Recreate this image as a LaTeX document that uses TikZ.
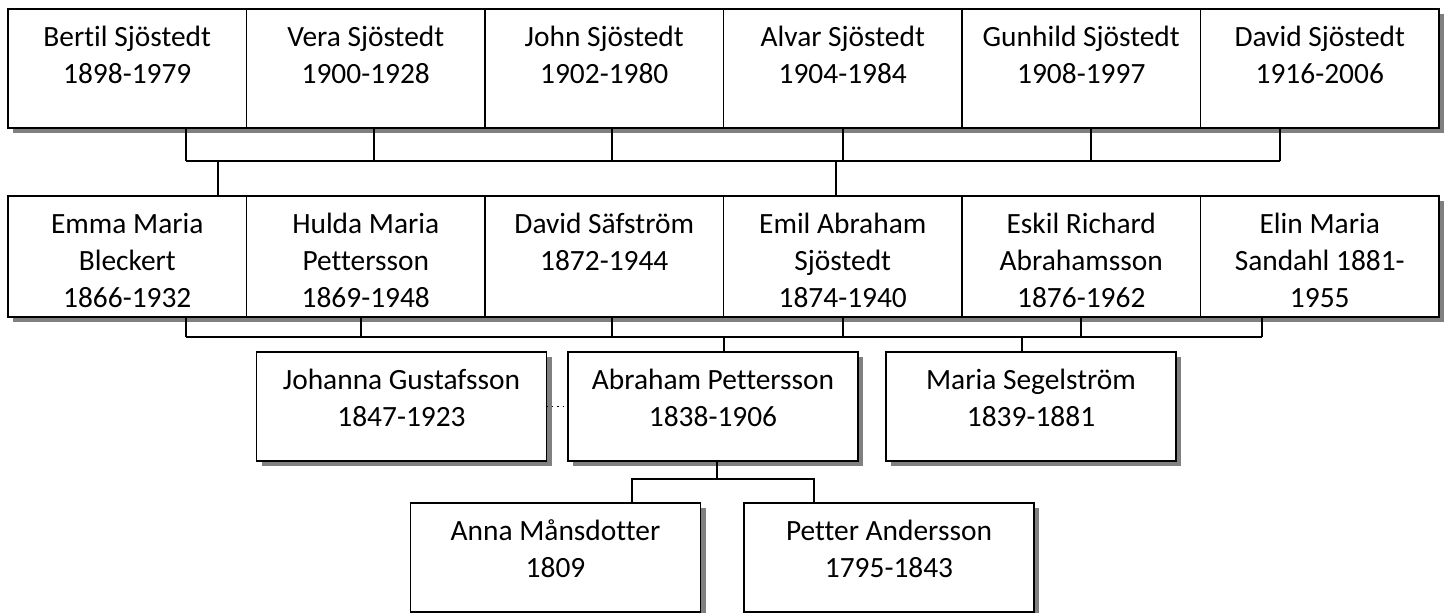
\documentclass[tikz,border=0pt]{standalone}
\usepackage{fontspec}
\setmainfont{Carlito}[Ligatures=NoCommon]
\usetikzlibrary{shadows}
% rutor: bredd, hojd, text (texten ligger upptill)
\newcommand{\persbox}[3]{\parbox[c][#2][t]{#1}{\centering\rule{0pt}{19pt}#3}}
\newcommand{\barnbox}[1]{\persbox{119.25pt}{59.5pt}{#1}}
\newcommand{\foraldbox}[1]{\persbox{119.25pt}{60.5pt}{#1}}
\newcommand{\farbox}[1]{\persbox{145pt}{54.5pt}{#1}}
\tikzset{
  pers/.style={draw, line width=0.75pt, fill=white, inner sep=0pt, outer sep=0pt,
    drop shadow={shadow xshift=2.5pt, shadow yshift=-2.5pt, fill=black!50, opacity=1}},
  link/.style={line width=0.7pt}
}

\begin{document}
\begin{tikzpicture}[x=0.5pt,y=-0.5pt,
    every node/.style={font=\fontsize{14.7pt}{18.3pt}\selectfont}]
   \useasboundingbox (0,0) rectangle (1449,613);
% barnen
   \node[pers] (bertil) at (127.25,68.5) {\barnbox{Bertil Sjöstedt\\1898-1979}};
   \node[pers] (vera) at (365.75,68.5) {\barnbox{Vera Sjöstedt\\1900-1928}};
   \node[pers] (john) at (604.25,68.5) {\barnbox{John Sjöstedt\\1902-1980}};
   \node[pers] (alvar) at (842.75,68.5) {\barnbox{Alvar Sjöstedt\\1904-1984}};
   \node[pers] (gunhild) at (1081.25,68.5) {\barnbox{Gunhild Sjöstedt\\1908-1997}};
   \node[pers] (davids) at (1319.75,68.5) {\barnbox{David Sjöstedt\\1916-2006}};
% foraldrarna
   \node[pers] (emma) at (127.25,256.5) {\foraldbox{Emma Maria\\Bleckert\\1866-1932}};
   \node[pers] (hulda) at (365.75,256.5) {\foraldbox{Hulda Maria\\Pettersson\\1869-1948}};
   \node[pers] (david) at (604.25,256.5) {\foraldbox{David Säfström\\1872-1944}};
   \node[pers] (emil) at (842.75,256.5) {\foraldbox{Emil Abraham\\Sjöstedt\\1874-1940}};
   \node[pers] (eskil) at (1081.25,256.5) {\foraldbox{Eskil Richard\\Abrahamsson\\1876-1962}};
   \node[pers] (elin) at (1319.75,256.5) {\foraldbox{Elin Maria\\Sandahl 1881-\\1955}};
% farforaldrar
   \node[pers] (johanna) at (401.5,406.5) {\farbox{Johanna Gustafsson\\1847-1923}};
   \node[pers] (abraham) at (713,406.5) {\farbox{Abraham Pettersson\\1838-1906}};
   \node[pers] (maria) at (1031,406.5) {\farbox{Maria Segelström\\1839-1881}};
% farfars foraldrar
   \node[pers] (anna) at (555.5,557.5) {\farbox{Anna Månsdotter\\1809}};
   \node[pers] (petter) at (889,557.5) {\farbox{Petter Andersson\\1795-1843}};
% linjer rad 1
   \coordinate (ka) at (186,161); \coordinate (kb) at (1280,161);
   \foreach \n/\x in {bertil/186,vera/374,john/612,alvar/843,gunhild/1091,davids/1280}
      \draw[link] (\x,0 |- \n.south) -- (\x,0 |- ka);
   \draw[link] (ka) -- (kb);
   \draw[link] (218,0 |- ka) -- (218,0 |- emma.north);
   \draw[link] (836,0 |- ka) -- (836,0 |- emil.north);
% linjer rad 2
   \coordinate (kc) at (186,337); \coordinate (kd) at (1262,337);
   \foreach \n/\x in {emma/186,hulda/361,david/612,emil/843,eskil/1081,elin/1262}
      \draw[link] (\x,0 |- \n.south) -- (\x,0 |- kc);
   \draw[link] (kc) -- (kd);
   \draw[link] (724,0 |- kc) -- (724,0 |- abraham.north);
   \draw[link] (1022,0 |- kc) -- (1022,0 |- maria.north);
% linjer rad 3
   \draw[link, dotted] (johanna) -- (abraham);
   \coordinate (ke) at (632,479); \coordinate (kf) at (814,479);
   \draw[link] (717,0 |- abraham.south) -- (717,0 |- ke);
   \draw[link] (ke |- anna.north) |- (kf) -- (kf |- petter.north);
\end{tikzpicture}
\end{document}
